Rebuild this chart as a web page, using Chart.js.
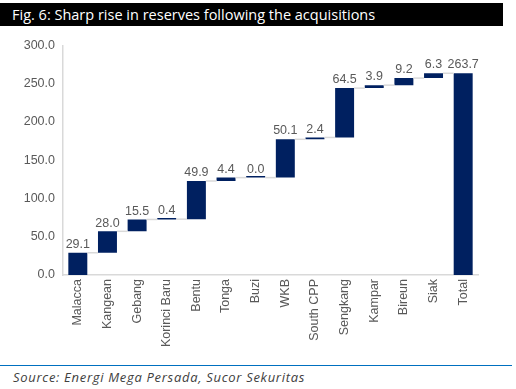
<!DOCTYPE html>
<html>
<head>
<meta charset="utf-8">
<script src="https://cdn.jsdelivr.net/npm/chart.js@4.4.1/dist/chart.umd.min.js"></script>
<style>
  html, body { margin: 0; padding: 0; background: #fff; }
  #page { position: relative; width: 516px; height: 389px; overflow: hidden; }
  #title { position: absolute; left: 0; top: 3px; width: 503px; height: 23px; background: #000; color: #fff;
           font-family: "Open Sans", sans-serif; font-size: 14.5px; line-height: 23px; padding-left: 12px; box-sizing: border-box; }
  #wrap { position: absolute; left: 0; top: 30px; width: 516px; height: 320px; }
  #rule { position: absolute; left: 0; top: 365px; width: 512px; height: 0; border-top: 1.5px solid #0070c0; }
  #source { position: absolute; left: 13px; top: 368px; font-family: "Open Sans", sans-serif; font-style: italic;
            font-size: 13px; letter-spacing: 0.7px; color: #404040; }
</style>
</head>
<body>
<div id="page">
  <div id="title">Fig. 6: Sharp rise in reserves following the acquisitions</div>
  <div id="wrap"><canvas id="chart"></canvas></div>
  <div id="rule"></div>
  <div id="source">Source: Energi Mega Persada, Sucor Sekuritas</div>
</div>
<script>
const categories = ['Malacca', 'Kangean', 'Gebang', 'Korinci Baru', 'Bentu', 'Tonga', 'Buzi', 'WKB',
  'South CPP', 'Sengkang', 'Kampar', 'Bireun', 'Siak', 'Total'];
const increments = [29.1, 28.0, 15.5, 0.4, 49.9, 4.4, 0.0, 50.1, 2.4, 64.5, 3.9, 9.2, 6.3];
const total = 263.7;
const yTicks = [0, 50, 100, 150, 200, 250, 300];

// floating bars: [start, end]
const ranges = [];
let running = 0;
increments.forEach(v => {
  ranges.push([running, running + v]);
  running += v;
});
ranges.push([0, total]);
const shownValues = increments.concat([total]);

const labelPlugin = {
  id: 'waterfallExtras',
  afterDatasetsDraw(chart) {
    const ctx = chart.ctx;
    const meta = chart.getDatasetMeta(0);
    const y = chart.scales.y;
    ctx.save();
    // connector lines
    ctx.strokeStyle = '#d9d9d9';
    ctx.lineWidth = 1.5;
    for (let i = 0; i < meta.data.length - 1; i++) {
      const a = meta.data[i], b = meta.data[i + 1];
      const yy = y.getPixelForValue(ranges[i][1]);
      ctx.beginPath();
      ctx.moveTo(a.x + a.width / 2, yy);
      ctx.lineTo(b.x - b.width / 2, yy);
      ctx.stroke();
    }
    // value labels
    ctx.fillStyle = '#595959';
    ctx.font = '12.5px "Liberation Sans", sans-serif';
    ctx.textAlign = 'center';
    ctx.textBaseline = 'bottom';
    meta.data.forEach((bar, i) => {
      const top = y.getPixelForValue(ranges[i][1]);
      ctx.fillText(shownValues[i].toFixed(1), bar.x, top - 2);
    });
    ctx.restore();
  }
};

new Chart(document.getElementById('chart'), {
  type: 'bar',
  data: {
    labels: categories,
    datasets: [{
      data: ranges,
      backgroundColor: '#002060',
      borderColor: '#002060',
      borderWidth: 0,
      borderSkipped: false,
      minBarLength: 1.5,
      categoryPercentage: 1,
      barPercentage: 0.64
    }]
  },
  options: {
    responsive: true,
    maintainAspectRatio: false,
    animation: false,
    layout: { padding: { top: 13, right: 38, left: 0, bottom: 0 } },
    plugins: { legend: { display: false }, tooltip: { enabled: false } },
    scales: {
      x: {
        grid: { display: false, drawTicks: false },
        border: { color: '#d9d9d9', width: 1.5 },
        ticks: {
          color: '#595959',
          font: { family: '"Liberation Sans", sans-serif', size: 12.5 },
          maxRotation: 90, minRotation: 90, autoSkip: false, padding: 4
        },
        afterFit: s => { s.height = 75; }
      },
      y: {
        min: 0, max: 300,
        grid: { display: false, drawTicks: false },
        border: { color: '#d9d9d9', width: 1.5 },
        afterBuildTicks: s => { s.ticks = yTicks.map(v => ({ value: v })); },
        ticks: {
          color: '#595959',
          font: { family: '"Liberation Sans", sans-serif', size: 12.5 },
          padding: 8,
          callback: v => Number(v).toFixed(1)
        },
        afterFit: s => { s.width = 63; }
      }
    }
  },
  plugins: [labelPlugin]
});
</script>
</body>
</html>
